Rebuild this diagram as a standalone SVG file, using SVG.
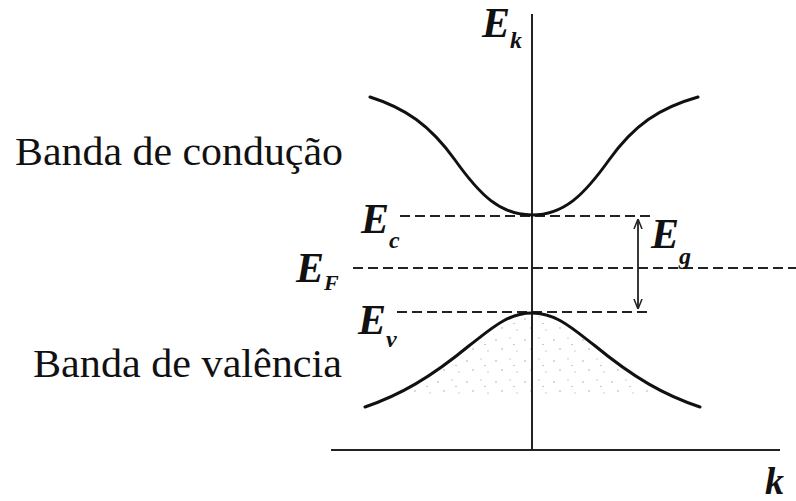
<svg xmlns="http://www.w3.org/2000/svg" width="796" height="501" viewBox="0 0 796 501">
<style>
.axis{stroke:#222;stroke-width:2;fill:none}
.band{stroke:#111;stroke-width:3;fill:none;stroke-linecap:round}
.level{stroke:#222;stroke-width:2;stroke-dasharray:10 5;fill:none}
.sym{font-family:"Liberation Serif",serif;font-style:italic;font-weight:bold;fill:#111}
.lbl{font-family:"Liberation Serif",serif;font-size:40px;fill:#111}
</style>
<defs>
<pattern id="stip" width="29" height="21" patternUnits="userSpaceOnUse">
<circle cx="3" cy="4" r="0.8" fill="#aaa"/>
<circle cx="17" cy="2" r="0.7" fill="#bbb"/>
<circle cx="9" cy="13" r="0.8" fill="#aaa"/>
<circle cx="24" cy="15" r="0.7" fill="#bbb"/>
<rect x="20" y="8" width="2" height="0.8" fill="#bbb"/>
</pattern>
<marker id="ah" viewBox="0 0 10 10" refX="10" refY="5" markerWidth="10" markerHeight="10" markerUnits="userSpaceOnUse" orient="auto-start-reverse">
<path d="M0,1 L10,5 L0,9" fill="none" stroke="#222" stroke-width="1.5"/>
</marker>
</defs>
<g id="shading">
<path d="M395,398 C420,388 445,370 470,345 C492,328 508,313 532,313 C556,313 572,328 594,345 C619,370 644,388 669,398 Z" fill="url(#stip)"/>
</g>
<g id="connectors">
<line class="axis" x1="532" y1="14" x2="532" y2="451"/>
<line class="axis" x1="331" y1="450" x2="780" y2="450"/>
<line class="level" x1="400" y1="216" x2="652" y2="216"/>
<line class="level" x1="353" y1="268" x2="796" y2="268"/>
<line class="level" x1="397" y1="312" x2="650" y2="312"/>
<line x1="638" y1="219" x2="638" y2="309" stroke="#222" stroke-width="1.8" marker-start="url(#ah)" marker-end="url(#ah)"/>
</g>
<g id="conduction">
<path class="band" d="M370,97 C405,108 430,125 455,160 C480,195 500,215 532,215 C564,215 584,195 609,160 C634,125 659,108 698,97"/>
</g>
<g id="valence">
<path class="band" d="M365,407 C400,395 430,378 470,345 C492,328 508,313 532,313 C556,313 572,328 594,345 C634,378 664,395 700,407"/>
</g>
<g id="labels">
<text class="sym" x="482" y="37" font-size="42">E<tspan font-size="24" dy="11">k</tspan></text>
<text class="sym" x="361" y="233" font-size="42">E<tspan font-size="24" dy="15">c</tspan></text>
<text class="sym" x="296" y="282" font-size="42">E<tspan font-size="22" dy="8">F</tspan></text>
<text class="sym" x="651" y="248" font-size="42">E<tspan font-size="24" dy="16">g</tspan></text>
<text class="sym" x="358" y="334" font-size="42">E<tspan font-size="24" dy="13">v</tspan></text>
<text class="sym" x="765" y="494" font-size="38">k</text>
<text class="lbl" x="15" y="165" textLength="328" lengthAdjust="spacingAndGlyphs">Banda de condução</text>
<text class="lbl" x="33" y="377" textLength="309" lengthAdjust="spacingAndGlyphs">Banda de valência</text>
</g>
</svg>
